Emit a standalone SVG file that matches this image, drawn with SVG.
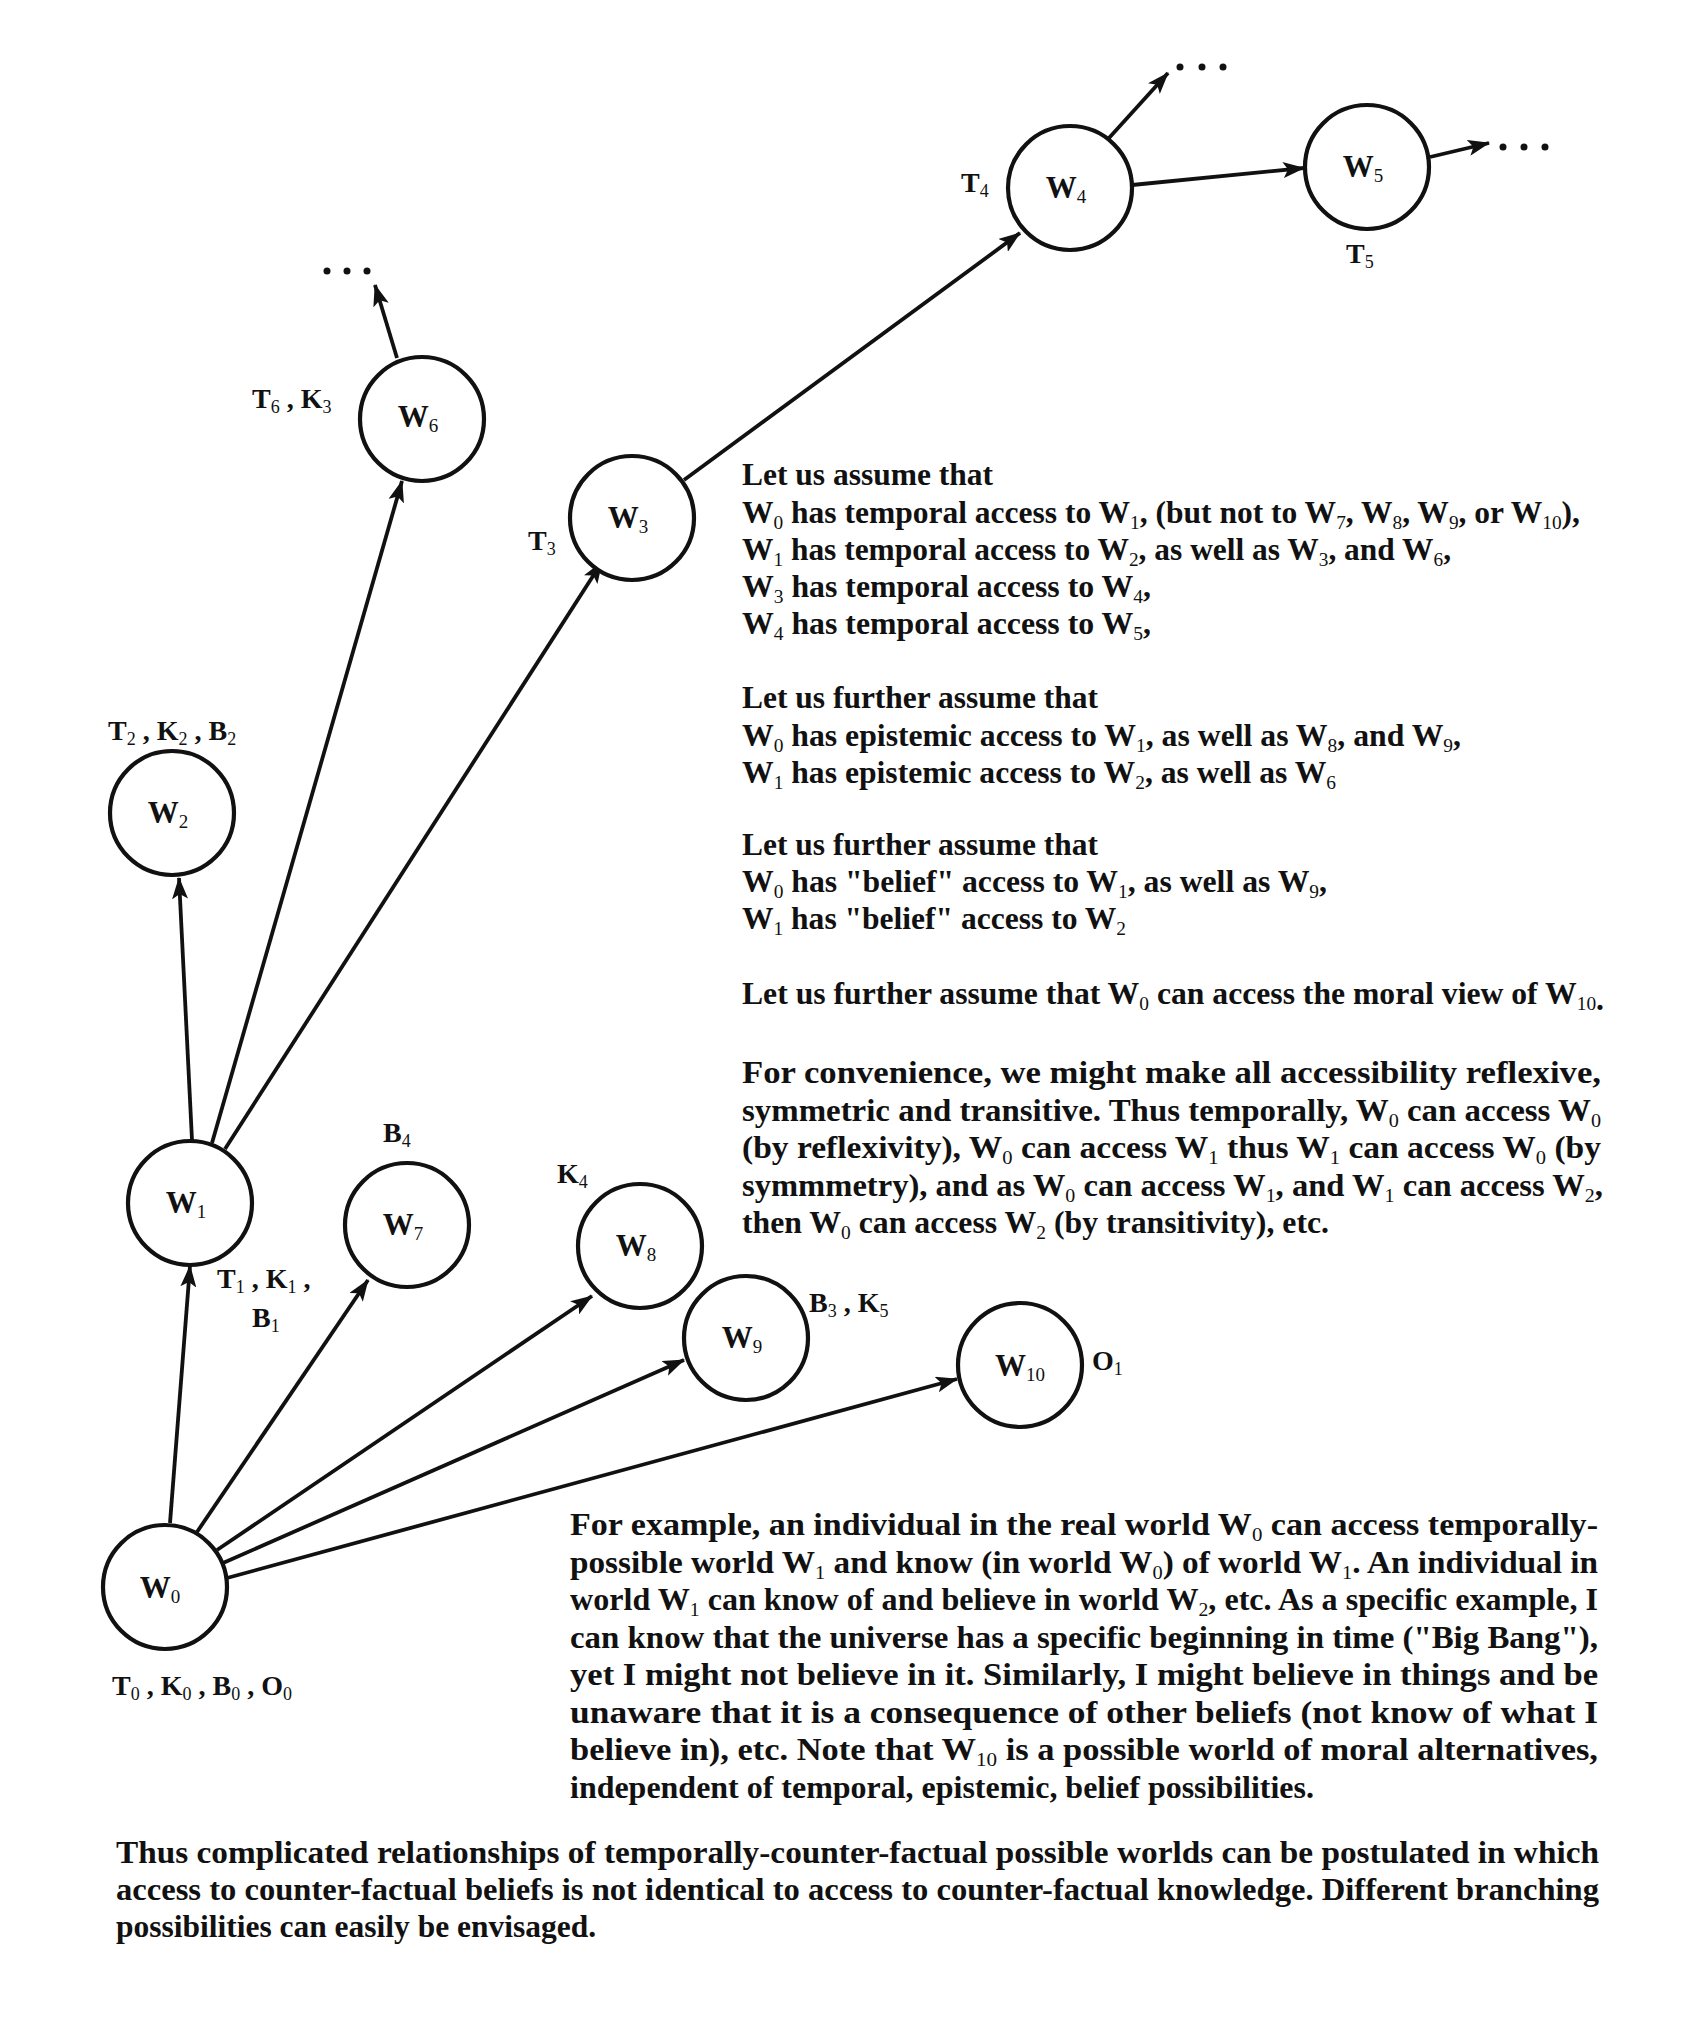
<svg xmlns="http://www.w3.org/2000/svg" width="1700" height="2023" viewBox="0 0 1700 2023">
<style>
text { font-family: "Liberation Serif", "Times New Roman", serif; font-weight: bold; fill: #111; }
.t { font-size: 31px; }
.s { font-size: 19px; font-weight: normal; }
.lab { font-size: 28px; }
.ls { font-size: 18px; font-weight: normal; }
.wl { font-size: 31px; }
.node circle { fill: #fff; stroke: #111; stroke-width: 4.2; }
.conn line { stroke: #111; stroke-width: 3.8; marker-end: url(#arr); }
.dot { fill: #111; }
</style>
<defs>
<marker id="arr" markerUnits="userSpaceOnUse" viewBox="0 0 22 16" markerWidth="22" markerHeight="16" refX="21" refY="8" orient="auto">
<path d="M0,0 L22,8 L0,16 L5,8 Z" fill="#111"/>
</marker>
</defs>
<rect width="1700" height="2023" fill="#fff"/>

<g id="connectors" class="conn">
<line x1="170" y1="1523" x2="190" y2="1266"/>
<line x1="197" y1="1532" x2="368" y2="1280"/>
<line x1="217" y1="1550" x2="592" y2="1296"/>
<line x1="223" y1="1563" x2="684" y2="1360"/>
<line x1="227" y1="1578" x2="957" y2="1379"/>
<line x1="192" y1="1140" x2="179" y2="878"/>
<line x1="212" y1="1143" x2="402" y2="481"/>
<line x1="225" y1="1149" x2="602" y2="562"/>
<line x1="684" y1="480" x2="1020" y2="233"/>
<line x1="1109" y1="138" x2="1168" y2="73"/>
<line x1="1132" y1="185" x2="1304" y2="168"/>
<line x1="1430" y1="157" x2="1489" y2="143"/>
<line x1="397" y1="358" x2="375" y2="285"/>
</g>

<g id="ellipses">
<circle class="dot" cx="1180" cy="67" r="3.5"/><circle class="dot" cx="1202" cy="67" r="3.5"/><circle class="dot" cx="1223" cy="67" r="3.5"/>
<circle class="dot" cx="1503" cy="147" r="3.5"/><circle class="dot" cx="1524" cy="147" r="3.5"/><circle class="dot" cx="1545" cy="147" r="3.5"/>
<circle class="dot" cx="327" cy="271" r="3.5"/><circle class="dot" cx="347" cy="271" r="3.5"/><circle class="dot" cx="367" cy="271" r="3.5"/>
</g>

<g id="W0" class="node"><circle cx="165" cy="1587" r="62"/><text class="wl" x="160" y="1598" text-anchor="middle">W<tspan class="s" dy="5">0</tspan></text></g>
<g id="W1" class="node"><circle cx="190" cy="1203" r="62"/><text class="wl" x="186" y="1213" text-anchor="middle">W<tspan class="s" dy="5">1</tspan></text></g>
<g id="W2" class="node"><circle cx="172" cy="813" r="62"/><text class="wl" x="168" y="823" text-anchor="middle">W<tspan class="s" dy="5">2</tspan></text></g>
<g id="W3" class="node"><circle cx="632" cy="518" r="62"/><text class="wl" x="628" y="528" text-anchor="middle">W<tspan class="s" dy="5">3</tspan></text></g>
<g id="W4" class="node"><circle cx="1070" cy="188" r="62"/><text class="wl" x="1066" y="198" text-anchor="middle">W<tspan class="s" dy="5">4</tspan></text></g>
<g id="W5" class="node"><circle cx="1367" cy="167" r="62"/><text class="wl" x="1363" y="177" text-anchor="middle">W<tspan class="s" dy="5">5</tspan></text></g>
<g id="W6" class="node"><circle cx="422" cy="419" r="62"/><text class="wl" x="418" y="427" text-anchor="middle">W<tspan class="s" dy="5">6</tspan></text></g>
<g id="W7" class="node"><circle cx="407" cy="1225" r="62"/><text class="wl" x="403" y="1235" text-anchor="middle">W<tspan class="s" dy="5">7</tspan></text></g>
<g id="W8" class="node"><circle cx="640" cy="1246" r="62"/><text class="wl" x="636" y="1256" text-anchor="middle">W<tspan class="s" dy="5">8</tspan></text></g>
<g id="W9" class="node"><circle cx="746" cy="1338" r="62"/><text class="wl" x="742" y="1348" text-anchor="middle">W<tspan class="s" dy="5">9</tspan></text></g>
<g id="W10" class="node"><circle cx="1020" cy="1365" r="62"/><text class="wl" x="1020" y="1376" text-anchor="middle">W<tspan class="s" dy="5">10</tspan></text></g>

<g id="labels" class="lab">
<text class="lab" x="252" y="408">T<tspan class="ls" dy="5">6</tspan><tspan dy="-5"> , K</tspan><tspan class="ls" dy="5">3</tspan></text>
<text class="lab" x="528" y="550">T<tspan class="ls" dy="5">3</tspan></text>
<text class="lab" x="108" y="740">T<tspan class="ls" dy="5">2</tspan><tspan dy="-5"> , K</tspan><tspan class="ls" dy="5">2</tspan><tspan dy="-5"> , B</tspan><tspan class="ls" dy="5">2</tspan></text>
<text class="lab" x="961" y="192">T<tspan class="ls" dy="5">4</tspan></text>
<text class="lab" x="1346" y="263">T<tspan class="ls" dy="5">5</tspan></text>
<text class="lab" x="383" y="1142">B<tspan class="ls" dy="5">4</tspan></text>
<text class="lab" x="557" y="1183">K<tspan class="ls" dy="5">4</tspan></text>
<text class="lab" x="217" y="1288">T<tspan class="ls" dy="5">1</tspan><tspan dy="-5"> , K</tspan><tspan class="ls" dy="5">1</tspan><tspan dy="-5"> ,</tspan></text>
<text class="lab" x="252" y="1327">B<tspan class="ls" dy="5">1</tspan></text>
<text class="lab" x="809" y="1312">B<tspan class="ls" dy="5">3</tspan><tspan dy="-5"> , K</tspan><tspan class="ls" dy="5">5</tspan></text>
<text class="lab" x="1092" y="1370">O<tspan class="ls" dy="5">1</tspan></text>
<text class="lab" x="112" y="1695">T<tspan class="ls" dy="5">0</tspan><tspan dy="-5"> , K</tspan><tspan class="ls" dy="5">0</tspan><tspan dy="-5"> , B</tspan><tspan class="ls" dy="5">0</tspan><tspan dy="-5"> , O</tspan><tspan class="ls" dy="5">0</tspan></text>
</g>

<g id="text-assumptions" class="t">
<text class="t" x="742" y="485" textLength="251" lengthAdjust="spacingAndGlyphs">Let us assume that</text>
<text class="t" x="742" y="523" textLength="838" lengthAdjust="spacingAndGlyphs">W<tspan class="s" dy="6">0</tspan><tspan dy="-6"> has temporal access to W</tspan><tspan class="s" dy="6">1</tspan><tspan dy="-6">, (but not to W</tspan><tspan class="s" dy="6">7</tspan><tspan dy="-6">, W</tspan><tspan class="s" dy="6">8</tspan><tspan dy="-6">, W</tspan><tspan class="s" dy="6">9</tspan><tspan dy="-6">, or W</tspan><tspan class="s" dy="6">10</tspan><tspan dy="-6">),</tspan></text>
<text class="t" x="742" y="560" textLength="709" lengthAdjust="spacingAndGlyphs">W<tspan class="s" dy="6">1</tspan><tspan dy="-6"> has temporal access to W</tspan><tspan class="s" dy="6">2</tspan><tspan dy="-6">, as well as W</tspan><tspan class="s" dy="6">3</tspan><tspan dy="-6">, and W</tspan><tspan class="s" dy="6">6</tspan><tspan dy="-6">,</tspan></text>
<text class="t" x="742" y="597" textLength="409" lengthAdjust="spacingAndGlyphs">W<tspan class="s" dy="6">3</tspan><tspan dy="-6"> has temporal access to W</tspan><tspan class="s" dy="6">4</tspan><tspan dy="-6">,</tspan></text>
<text class="t" x="742" y="634" textLength="409" lengthAdjust="spacingAndGlyphs">W<tspan class="s" dy="6">4</tspan><tspan dy="-6"> has temporal access to W</tspan><tspan class="s" dy="6">5</tspan><tspan dy="-6">,</tspan></text>

<text class="t" x="742" y="708" textLength="356" lengthAdjust="spacingAndGlyphs">Let us further assume that</text>
<text class="t" x="742" y="746" textLength="719" lengthAdjust="spacingAndGlyphs">W<tspan class="s" dy="6">0</tspan><tspan dy="-6"> has epistemic access to W</tspan><tspan class="s" dy="6">1</tspan><tspan dy="-6">, as well as W</tspan><tspan class="s" dy="6">8</tspan><tspan dy="-6">, and W</tspan><tspan class="s" dy="6">9</tspan><tspan dy="-6">,</tspan></text>
<text class="t" x="742" y="783" textLength="594" lengthAdjust="spacingAndGlyphs">W<tspan class="s" dy="6">1</tspan><tspan dy="-6"> has epistemic access to W</tspan><tspan class="s" dy="6">2</tspan><tspan dy="-6">, as well as W</tspan><tspan class="s" dy="6">6</tspan></text>

<text class="t" x="742" y="855" textLength="356" lengthAdjust="spacingAndGlyphs">Let us further assume that</text>
<text class="t" x="742" y="892" textLength="585" lengthAdjust="spacingAndGlyphs">W<tspan class="s" dy="6">0</tspan><tspan dy="-6"> has "belief" access to W</tspan><tspan class="s" dy="6">1</tspan><tspan dy="-6">, as well as W</tspan><tspan class="s" dy="6">9</tspan><tspan dy="-6">,</tspan></text>
<text class="t" x="742" y="929" textLength="384" lengthAdjust="spacingAndGlyphs">W<tspan class="s" dy="6">1</tspan><tspan dy="-6"> has "belief" access to W</tspan><tspan class="s" dy="6">2</tspan></text>

<text class="t" x="742" y="1004" textLength="862" lengthAdjust="spacingAndGlyphs">Let us further assume that W<tspan class="s" dy="6">0</tspan><tspan dy="-6"> can access the moral view of W</tspan><tspan class="s" dy="6">10</tspan><tspan>.</tspan></text>
</g>

<g id="text-convenience" class="t">
<text class="t" x="742" y="1083" textLength="859" lengthAdjust="spacingAndGlyphs">For convenience, we might make all accessibility reflexive,</text>
<text class="t" x="742" y="1121" textLength="859" lengthAdjust="spacingAndGlyphs">symmetric and transitive. Thus temporally, W<tspan class="s" dy="6">0</tspan><tspan dy="-6"> can access W</tspan><tspan class="s" dy="6">0</tspan></text>
<text class="t" x="742" y="1158" textLength="859" lengthAdjust="spacingAndGlyphs">(by reflexivity), W<tspan class="s" dy="6">0</tspan><tspan dy="-6"> can access W</tspan><tspan class="s" dy="6">1</tspan><tspan dy="-6"> thus W</tspan><tspan class="s" dy="6">1</tspan><tspan dy="-6"> can access W</tspan><tspan class="s" dy="6">0</tspan><tspan dy="-6"> (by</tspan></text>
<text class="t" x="742" y="1196" textLength="861" lengthAdjust="spacingAndGlyphs">symmmetry), and as W<tspan class="s" dy="6">0</tspan><tspan dy="-6"> can access W</tspan><tspan class="s" dy="6">1</tspan><tspan dy="-6">, and W</tspan><tspan class="s" dy="6">1</tspan><tspan dy="-6"> can access W</tspan><tspan class="s" dy="6">2</tspan><tspan dy="-6">,</tspan></text>
<text class="t" x="742" y="1233" textLength="587" lengthAdjust="spacingAndGlyphs">then W<tspan class="s" dy="6">0</tspan><tspan dy="-6"> can access W</tspan><tspan class="s" dy="6">2</tspan><tspan dy="-6"> (by transitivity), etc.</tspan></text>
</g>

<g id="text-example" class="t">
<text class="t" x="570" y="1535" textLength="1028" lengthAdjust="spacingAndGlyphs">For example, an individual in the real world W<tspan class="s" dy="6">0</tspan><tspan dy="-6"> can access temporally-</tspan></text>
<text class="t" x="570" y="1573" textLength="1028" lengthAdjust="spacingAndGlyphs">possible world W<tspan class="s" dy="6">1</tspan><tspan dy="-6"> and know (in world W</tspan><tspan class="s" dy="6">0</tspan><tspan dy="-6">) of world W</tspan><tspan class="s" dy="6">1</tspan><tspan dy="-6">. An individual in</tspan></text>
<text class="t" x="570" y="1610" textLength="1028" lengthAdjust="spacingAndGlyphs">world W<tspan class="s" dy="6">1</tspan><tspan dy="-6"> can know of and believe in world W</tspan><tspan class="s" dy="6">2</tspan><tspan dy="-6">, etc. As a specific example, I</tspan></text>
<text class="t" x="570" y="1648" textLength="1028" lengthAdjust="spacingAndGlyphs">can know that the universe has a specific beginning in time ("Big Bang"),</text>
<text class="t" x="570" y="1685" textLength="1028" lengthAdjust="spacingAndGlyphs">yet I might not believe in it. Similarly, I might believe in things and be</text>
<text class="t" x="570" y="1723" textLength="1028" lengthAdjust="spacingAndGlyphs">unaware that it is a consequence of other beliefs (not know of what I</text>
<text class="t" x="570" y="1760" textLength="1028" lengthAdjust="spacingAndGlyphs">believe in), etc. Note that W<tspan class="s" dy="6">10</tspan><tspan dy="-6"> is a possible world of moral alternatives,</tspan></text>
<text class="t" x="570" y="1798" textLength="744" lengthAdjust="spacingAndGlyphs">independent of temporal, epistemic, belief possibilities.</text>
</g>

<g id="text-conclusion" class="t">
<text class="t" x="116" y="1863" textLength="1483" lengthAdjust="spacingAndGlyphs">Thus complicated relationships of temporally-counter-factual possible worlds can be postulated in which</text>
<text class="t" x="116" y="1900" textLength="1483" lengthAdjust="spacingAndGlyphs">access to counter-factual beliefs is not identical to access to counter-factual knowledge. Different branching</text>
<text class="t" x="116" y="1937" textLength="480" lengthAdjust="spacingAndGlyphs">possibilities can easily be envisaged.</text>
</g>
</svg>
